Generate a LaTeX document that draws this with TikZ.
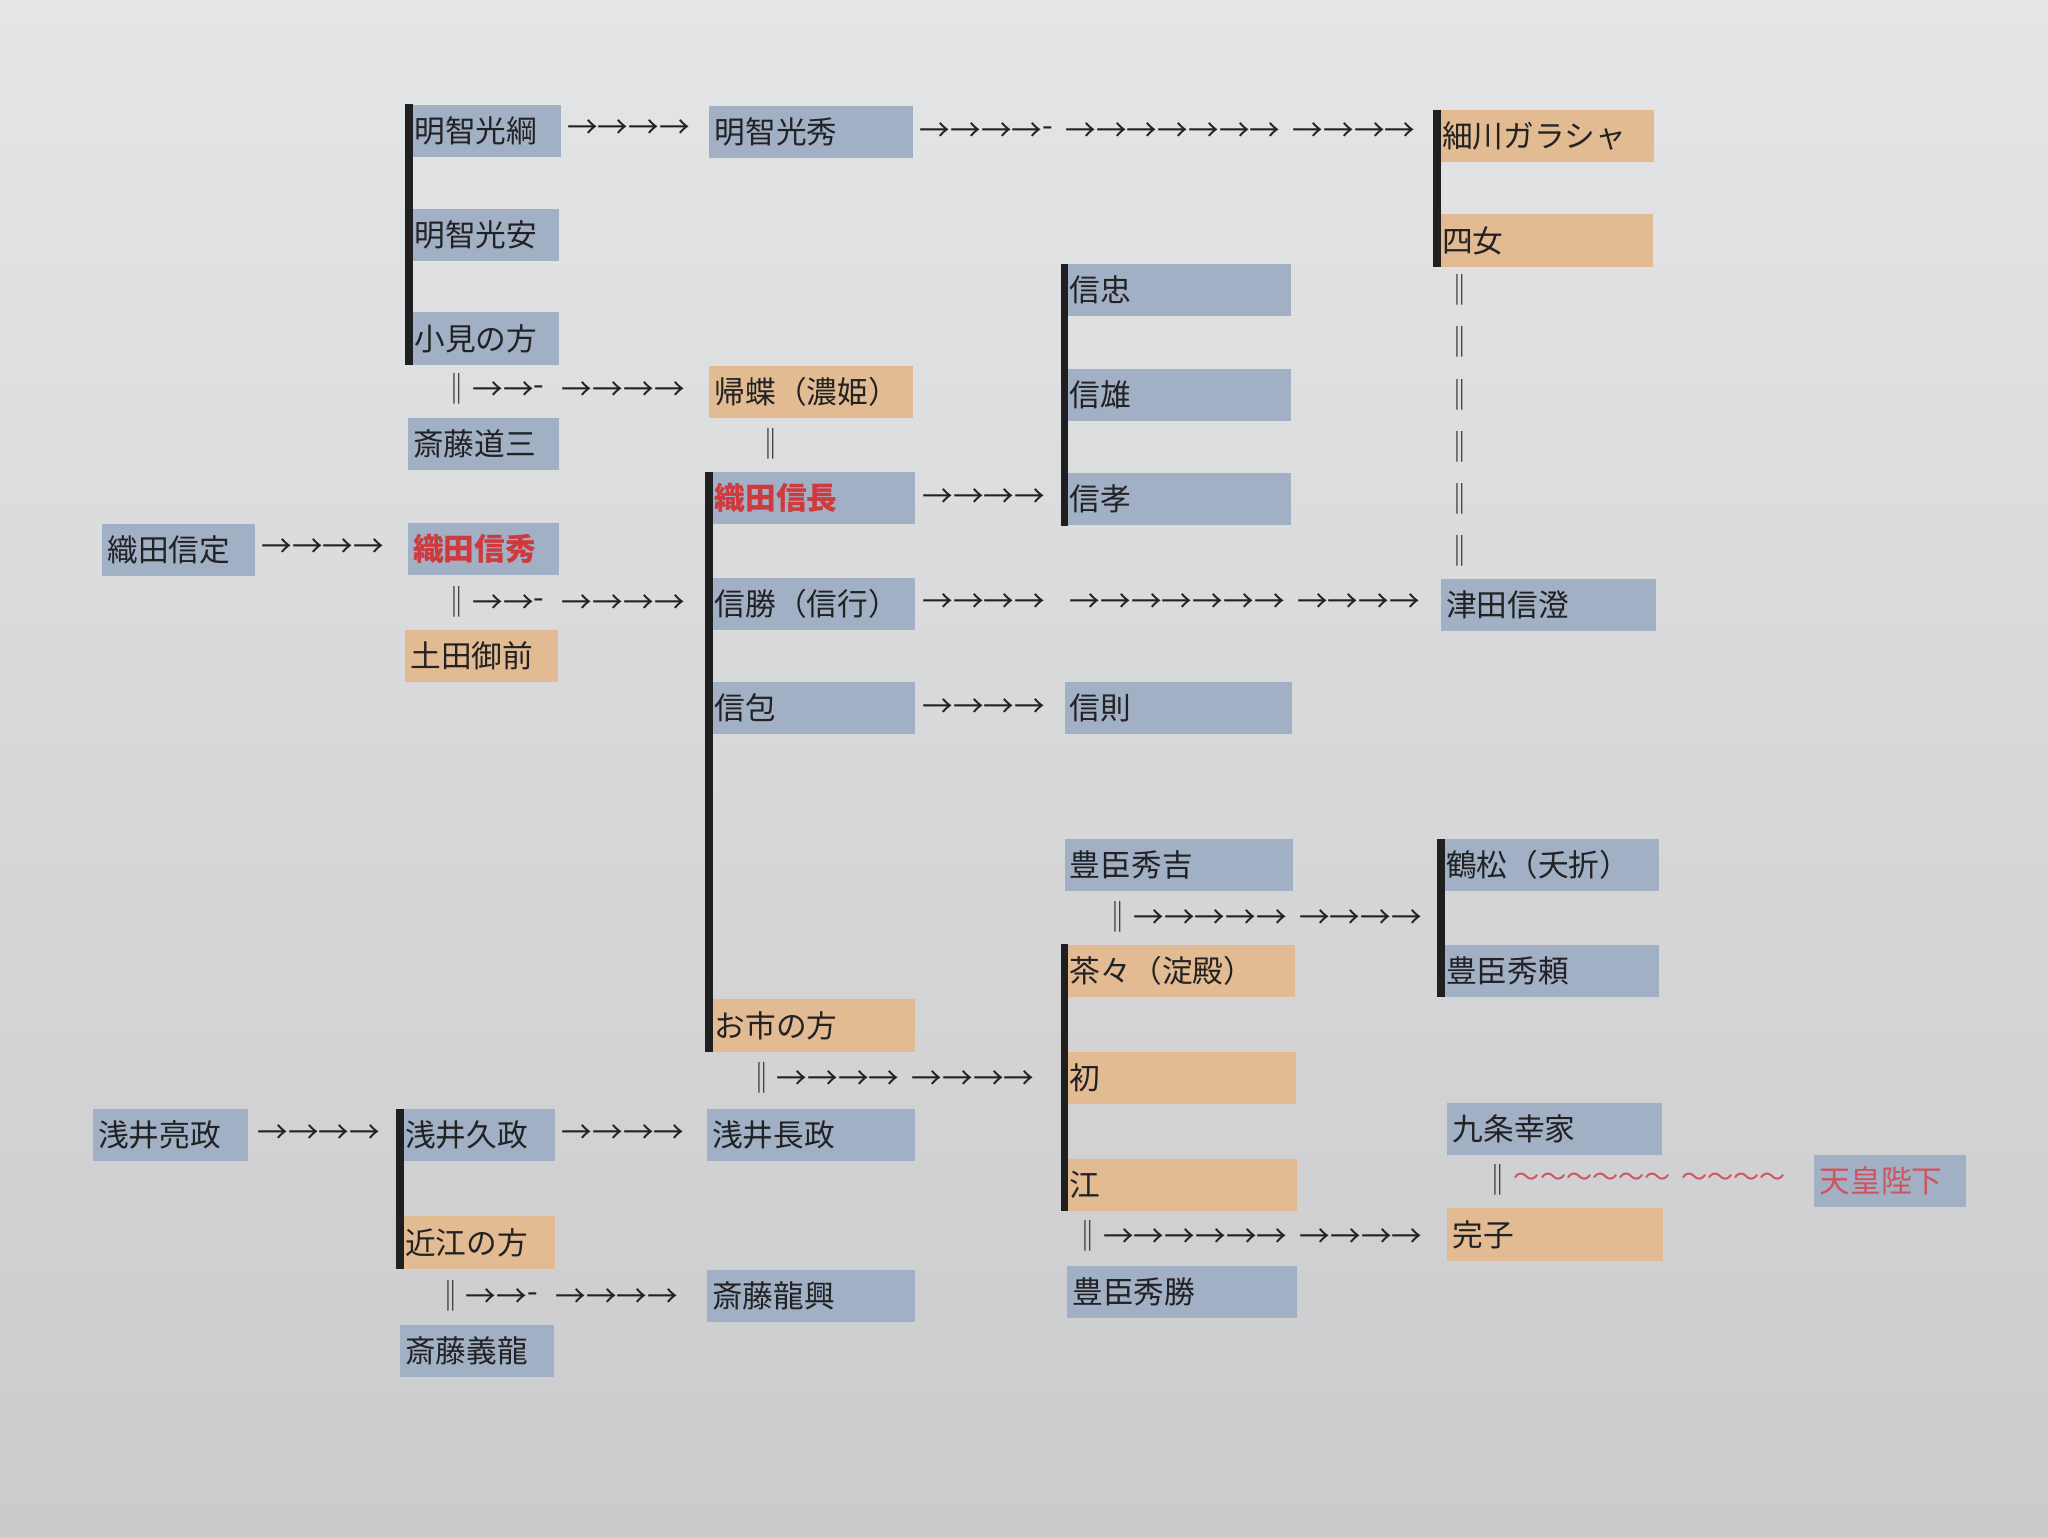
\documentclass[tikz,border=0pt]{standalone}
\usepackage{fontspec}
\setmainfont{Noto Sans CJK JP}[WordSpace=1.8]
\usepackage{xcolor}
\usepackage{tikz}
\usetikzlibrary{positioning}
\definecolor{paper}{RGB}{228,229,231}
\definecolor{paperdark}{RGB}{203,203,205}
\definecolor{boxblue}{RGB}{161,176,196}
\definecolor{boxorange}{RGB}{227,187,146}
\definecolor{ink}{RGB}{34,34,36}
\definecolor{namered}{RGB}{206,58,62}
\definecolor{tennored}{RGB}{208,84,96}
\tikzstyle{person} = [anchor=north west, minimum height=40pt, inner xsep=4pt, inner ysep=0pt, align=left, text=ink, font=\fontsize{23.5}{26}\selectfont]
\tikzstyle{bluename} = [person, fill=boxblue]
\tikzstyle{orangename} = [person, fill=boxorange]
\tikzstyle{lord} = [bluename, text=namered, font=\fontsize{23.5}{26}\selectfont\bfseries]
\tikzstyle{family} = [line width=6pt, draw=black!88]
\tikzstyle{descent} = [anchor=west, inner sep=0pt, text=ink, font=\fontsize{23.5}{26}\selectfont]

\begin{document}
\begin{tikzpicture}[x=1pt, y=-1pt]
\shade[top color=paper, bottom color=paperdark] (0,0) rectangle (1568,1176);

\node[bluename, text width=109pt] (nobusada) at (78,401) {織田信定};
\node[bluename, text width=111pt] (sukemasa) at (71,849) {浅井亮政};

\node[bluename, text width=108pt] (mitsutsuna) at (313,80) {明智光綱};
\node[bluename, text width=107pt] (mitsuyasu) at (313,160) {明智光安};
\node[bluename, text width=107pt] (omi) at (313,239) {小見の方};
\node[bluename, text width=108pt] (dosan) at (312,320) {斎藤道三};
\node[lord, text width=108pt] (nobuhide) at (312,400) {織田信秀};
\node[orangename, text width=109pt] (dotagozen) at (310,482) {土田御前};
\node[bluename, text width=111pt] (hisamasa) at (306,849) {浅井久政};
\node[orangename, text width=111pt] (oumi) at (306,931) {近江の方};
\node[bluename, text width=110pt] (yoshitatsu) at (306,1014) {斎藤義龍};

\node[bluename, text width=148pt] (mitsuhide) at (543,81) {明智光秀};
\node[orangename, text width=148pt] (kicho) at (543,280) {帰蝶（濃姫）};
\node[lord, text width=149pt] (nobunaga) at (543,361) {織田信長};
\node[bluename, text width=149pt] (nobukatsu) at (543,442) {信勝（信行）};
\node[bluename, text width=149pt] (nobukane) at (543,522) {信包};
\node[orangename, text width=149pt] (oichi) at (543,765) {お市の方};
\node[bluename, text width=151pt] (nagamasa) at (541,849) {浅井長政};
\node[bluename, text width=151pt] (tatsuoki) at (541,972) {斎藤龍興};

\node[bluename, text width=165pt] (nobutada) at (815,202) {信忠};
\node[bluename, text width=165pt] (nobuo) at (815,282) {信雄};
\node[bluename, text width=165pt] (nobutaka) at (815,362) {信孝};
\node[bluename, text width=166pt] (nobunori) at (815,522) {信則};
\node[bluename, text width=167pt] (hideyoshi) at (815,642) {豊臣秀吉};
\node[orangename, text width=168pt] (chacha) at (815,723) {茶々（淀殿）};
\node[orangename, text width=169pt] (hatsu) at (815,805) {初};
\node[orangename, text width=170pt] (go) at (815,887) {江};
\node[bluename, text width=168pt] (hidekatsu) at (817,969) {豊臣秀勝};

\node[orangename, text width=158pt] (garasha) at (1100,84) {細川ガラシャ};
\node[orangename, text width=157pt] (yonjo) at (1100,164) {四女};
\node[bluename, text width=157pt] (nobuzumi) at (1103,443) {津田信澄};
\node[bluename, text width=159pt] (tsurumatsu) at (1103,642) {鶴松（夭折）};
\node[bluename, text width=159pt] (hideyori) at (1103,723) {豊臣秀頼};
\node[bluename, text width=156pt] (yukiie) at (1108,844) {九条幸家};
\node[orangename, text width=157pt] (sadako) at (1108,925) {完子};
\node[bluename, text=tennored, text width=108pt] (tenno) at (1389,884) {天皇陛下};

\draw[family] (mitsutsuna.north west) -- (omi.south west);
\draw[family] (hisamasa.north west) -- (oumi.south west);
\draw[family] (nobunaga.north west) -- (oichi.south west);
\draw[family] (nobutada.north west) -- (nobutaka.south west);
\draw[family] (chacha.north west) -- (go.south west);
\draw[family] (garasha.north west) -- (yonjo.south west);
\draw[family] (tsurumatsu.north west) -- (hideyori.south west);

\node[descent] (tsunatohide) at (434,99) {→→→→};
\node[descent] (hidetogara) at (704,101) {→→→→\raisebox{0.16em}{-} →→→→→→→ →→→→};
\node[descent] (omitokicho) at (338,298) {‖→→\raisebox{0.16em}{-}\ \,→→→→};
\node[descent] (kichotie) at (578,340) {‖};
\node[descent] (nagatotaka) at (706,381) {→→→→};
\node[descent] (sadatohide) at (200,420) {→→→→};
\node[descent] (dotatokatsu) at (338,461) {‖→→\raisebox{0.16em}{-}\ \,→→→→};
\node[descent] (katsutozumi) at (706,462) {→→→→\ \ →→→→→→→ →→→→};
\node[descent] (kanetonori) at (706,542) {→→→→};
\node[descent] (hidetotsuru) at (844,702) {‖→→→→→ →→→→};
\node[descent] (ichitocha) at (571,825) {‖→→→→ →→→→};
\node[descent] (suketohisa) at (197,868) {→→→→};
\node[descent] (hisatonaga) at (430,868) {→→→→};
\node[descent] (kujotie) at (1135,903) {‖};
\node[descent, right=0pt of kujotie, text=tennored, font=\fontsize{20}{22}\selectfont] (kujowave) {〜〜〜〜〜〜 〜〜〜〜};
\node[descent] (gotosada) at (821,946) {‖→→→→→→ →→→→};
\node[descent] (oumitotatsu) at (333,992) {‖→→\raisebox{0.16em}{-}\ \,→→→→};
\foreach \y in {222,262,...,422}
  \node[descent, anchor=center] (garatie\y) at (1118,\y) {‖};
\end{tikzpicture}
\end{document}
